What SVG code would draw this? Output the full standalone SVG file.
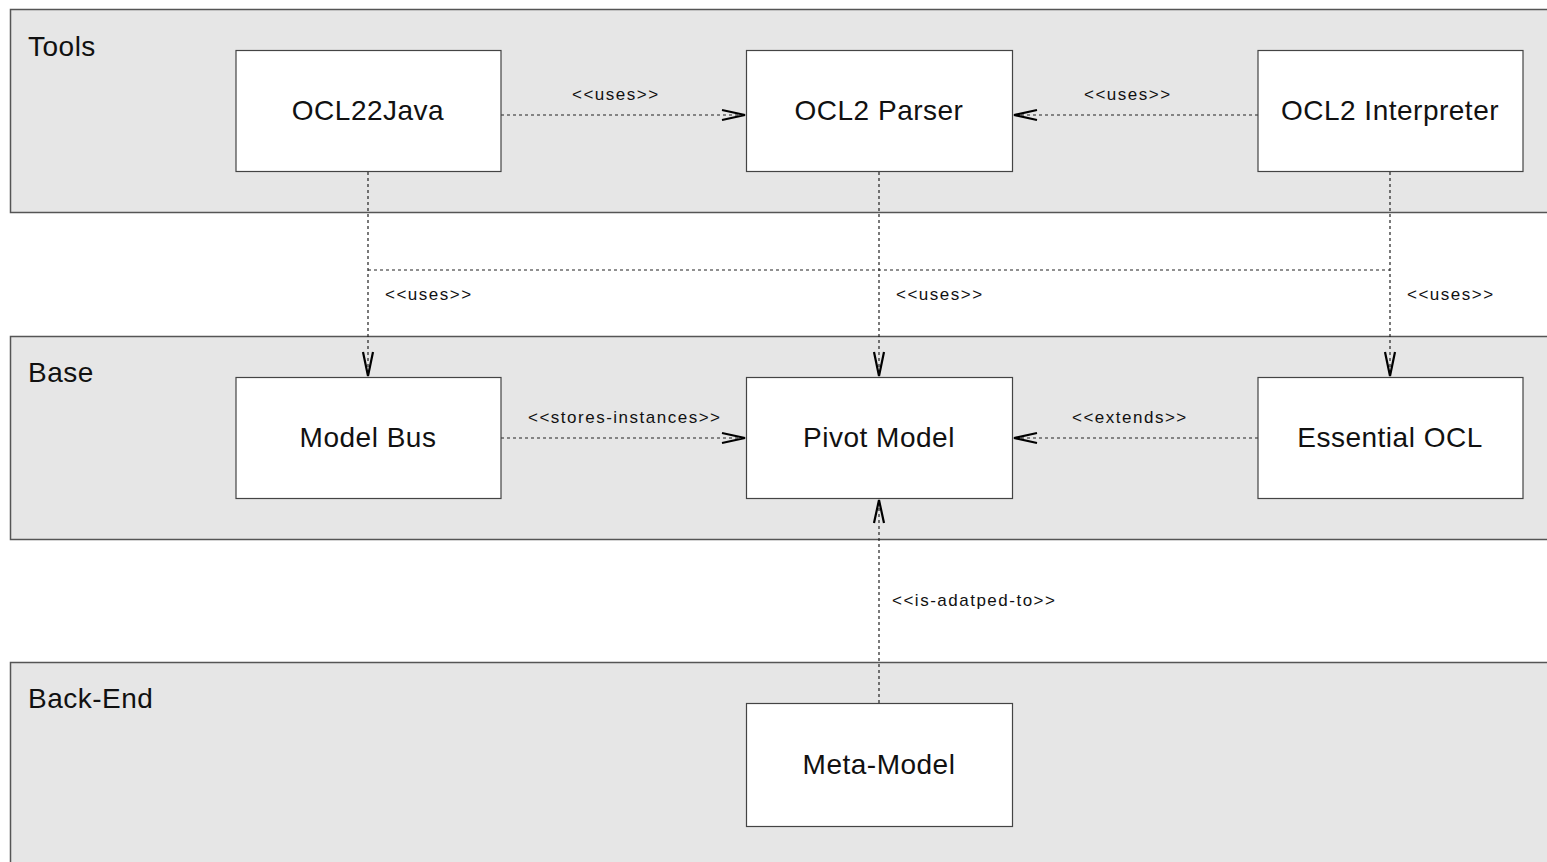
<svg xmlns="http://www.w3.org/2000/svg" width="1547" height="862" viewBox="0 0 1547 862">
<style>
.panel{fill:#e6e6e6;stroke:#555;stroke-width:1.5}
.node{fill:#fff;stroke:#444;stroke-width:1.2}
.ptitle{font-family:"Liberation Sans",Arial,sans-serif;font-size:28px;letter-spacing:0.5px;fill:#111}
.ntext{font-family:"Liberation Sans",Arial,sans-serif;font-size:28px;letter-spacing:0.5px;fill:#111;text-anchor:middle}
.lbl{font-family:"Liberation Sans",Arial,sans-serif;font-size:17px;letter-spacing:1.5px;fill:#111}
.dash{fill:none;stroke:#222;stroke-width:1.2;stroke-dasharray:3 3}
.head{fill:none;stroke:#000;stroke-width:2.2}
</style>
<rect width="1547" height="862" fill="#fff"/>
<g id="panel-tools"><rect class="panel" x="10.5" y="9.5" width="1545" height="203"/><text class="ptitle" x="28" y="56">Tools</text></g>
<g id="panel-base"><rect class="panel" x="10.5" y="336.5" width="1545" height="203"/><text class="ptitle" x="28" y="382">Base</text></g>
<g id="panel-backend"><rect class="panel" x="10.5" y="662.5" width="1545" height="210"/><text class="ptitle" x="28" y="708">Back-End</text></g>
<g id="connectors">
<line class="dash" x1="501" y1="115" x2="745" y2="115"/>
<polyline class="head" points="722,110 745,115 722,120"/>
<text class="lbl" x="572" y="100">&lt;&lt;uses&gt;&gt;</text>
<line class="dash" x1="1258" y1="115" x2="1014" y2="115"/>
<polyline class="head" points="1037,110 1014,115 1037,120"/>
<text class="lbl" x="1084" y="100">&lt;&lt;uses&gt;&gt;</text>
<line class="dash" x1="368" y1="172" x2="368" y2="376"/>
<line class="dash" x1="879" y1="172" x2="879" y2="376"/>
<line class="dash" x1="1390" y1="172" x2="1390" y2="376"/>
<line class="dash" x1="368" y1="270" x2="1390" y2="270"/>
<polyline class="head" points="363,352 368,376 373,352"/>
<polyline class="head" points="874,352 879,376 884,352"/>
<polyline class="head" points="1385,352 1390,376 1395,352"/>
<text class="lbl" x="385" y="300">&lt;&lt;uses&gt;&gt;</text>
<text class="lbl" x="896" y="300">&lt;&lt;uses&gt;&gt;</text>
<text class="lbl" x="1407" y="300">&lt;&lt;uses&gt;&gt;</text>
<line class="dash" x1="501" y1="438" x2="745" y2="438"/>
<polyline class="head" points="722,433 745,438 722,443"/>
<text class="lbl" x="528" y="423">&lt;&lt;stores-instances&gt;&gt;</text>
<line class="dash" x1="1258" y1="438" x2="1014" y2="438"/>
<polyline class="head" points="1037,433 1014,438 1037,443"/>
<text class="lbl" x="1072" y="423">&lt;&lt;extends&gt;&gt;</text>
<line class="dash" x1="879" y1="703" x2="879" y2="500"/>
<polyline class="head" points="874,523 879,500 884,523"/>
<text class="lbl" x="892" y="606">&lt;&lt;is-adatped-to&gt;&gt;</text>
</g>
<g id="ocl22java"><rect class="node" x="236" y="50.5" width="265" height="121"/><text class="ntext" x="368" y="120">OCL22Java</text></g>
<g id="ocl2parser"><rect class="node" x="746.5" y="50.5" width="266" height="121"/><text class="ntext" x="879" y="120">OCL2 Parser</text></g>
<g id="ocl2interpreter"><rect class="node" x="1258" y="50.5" width="265" height="121"/><text class="ntext" x="1390" y="120">OCL2 Interpreter</text></g>
<g id="modelbus"><rect class="node" x="236" y="377.5" width="265" height="121"/><text class="ntext" x="368" y="447">Model Bus</text></g>
<g id="pivotmodel"><rect class="node" x="746.5" y="377.5" width="266" height="121"/><text class="ntext" x="879" y="447">Pivot Model</text></g>
<g id="essentialocl"><rect class="node" x="1258" y="377.5" width="265" height="121"/><text class="ntext" x="1390" y="447">Essential OCL</text></g>
<g id="metamodel"><rect class="node" x="746.5" y="703.5" width="266" height="123"/><text class="ntext" x="879" y="774">Meta-Model</text></g>
</svg>
